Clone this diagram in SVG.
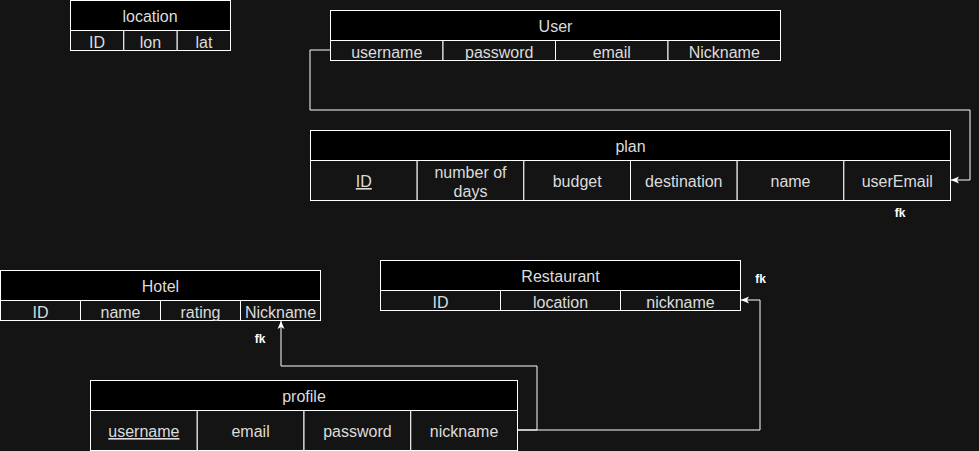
<svg xmlns="http://www.w3.org/2000/svg" width="979" height="451" viewBox="0 0 979 451">
<defs>
<style>
.hd{fill:#000000;stroke:#ffffff;stroke-width:1}
.rw{fill:#141414;stroke:#ffffff;stroke-width:1}
.t{font-family:"Liberation Sans",Arial,sans-serif;font-size:16px;fill:#dcdcdc;text-anchor:middle}
.fk{font-family:"Liberation Sans",Arial,sans-serif;font-size:12px;font-weight:bold;fill:#ffffff;text-anchor:middle}
.ln{fill:none;stroke:#ffffff;stroke-width:1}
</style>
<marker id="arr" markerUnits="userSpaceOnUse" markerWidth="9" markerHeight="8" refX="8" refY="3.5" orient="auto" viewBox="0 0 9 7">
<path d="M0,0 L8,3.5 L0,7 L2,3.5 z" fill="#ffffff"/>
</marker>
</defs>
<rect x="0" y="0" width="979" height="451" fill="#141414"/>

<g id="connectors">
<path class="ln" d="M330,50 H310 V110 H970 V180 H951" marker-end="url(#arr)"/>
<path class="ln" d="M517,430 H537 V366 H281 V321" marker-end="url(#arr)"/>
<path class="ln" d="M517,430 H760 V300 H741" marker-end="url(#arr)"/>
</g>

<g id="location">
<rect class="hd" x="70.5" y="0.5" width="160" height="30"/>
<rect class="rw" x="70.5" y="30.5" width="53.3" height="20"/>
<rect class="rw" x="123.8" y="30.5" width="53.4" height="20"/>
<rect class="rw" x="177.2" y="30.5" width="53.3" height="20"/>
<text class="t" x="150" y="22">location</text>
<text class="t" x="97" y="47.5">ID</text>
<text class="t" x="150.5" y="47.5">lon</text>
<text class="t" x="204" y="47.5">lat</text>
</g>

<g id="user">
<rect class="hd" x="330.5" y="10.5" width="450" height="30"/>
<rect class="rw" x="330.5" y="40.5" width="112.5" height="20"/>
<rect class="rw" x="443" y="40.5" width="112.5" height="20"/>
<rect class="rw" x="555.5" y="40.5" width="112.5" height="20"/>
<rect class="rw" x="668" y="40.5" width="112.5" height="20"/>
<text class="t" x="555.5" y="32">User</text>
<text class="t" x="386.75" y="57.5">username</text>
<text class="t" x="499.25" y="57.5">password</text>
<text class="t" x="611.75" y="57.5">email</text>
<text class="t" x="724.25" y="57.5">Nickname</text>
</g>

<g id="plan">
<rect class="hd" x="310.5" y="130.5" width="640" height="30"/>
<rect class="rw" x="310.5" y="160.5" width="106.67" height="40"/>
<rect class="rw" x="417.17" y="160.5" width="106.67" height="40"/>
<rect class="rw" x="523.83" y="160.5" width="106.67" height="40"/>
<rect class="rw" x="630.5" y="160.5" width="106.67" height="40"/>
<rect class="rw" x="737.17" y="160.5" width="106.67" height="40"/>
<rect class="rw" x="843.83" y="160.5" width="106.67" height="40"/>
<text class="t" x="630.5" y="152">plan</text>
<text class="t" x="363.8" y="187" text-decoration="underline">ID</text>
<text class="t" x="470.5" y="178">number of</text>
<text class="t" x="470.5" y="197">days</text>
<text class="t" x="577.2" y="187">budget</text>
<text class="t" x="683.8" y="187">destination</text>
<text class="t" x="790.5" y="187">name</text>
<text class="t" x="897.2" y="187">userEmail</text>
<text class="fk" x="900" y="217">fk</text>
</g>

<g id="hotel">
<rect class="hd" x="0.5" y="270.5" width="320" height="30"/>
<rect class="rw" x="0.5" y="300.5" width="80" height="20"/>
<rect class="rw" x="80.5" y="300.5" width="80" height="20"/>
<rect class="rw" x="160.5" y="300.5" width="80" height="20"/>
<rect class="rw" x="240.5" y="300.5" width="80" height="20"/>
<text class="t" x="160.5" y="292">Hotel</text>
<text class="t" x="40.5" y="317.5">ID</text>
<text class="t" x="120.5" y="317.5">name</text>
<text class="t" x="200.5" y="317.5">rating</text>
<text class="t" x="280.5" y="317.5">Nickname</text>
<text class="fk" x="260" y="343">fk</text>
</g>

<g id="restaurant">
<rect class="hd" x="380.5" y="260.5" width="360" height="30"/>
<rect class="rw" x="380.5" y="290.5" width="120" height="20"/>
<rect class="rw" x="500.5" y="290.5" width="120" height="20"/>
<rect class="rw" x="620.5" y="290.5" width="120" height="20"/>
<text class="t" x="560.5" y="282">Restaurant</text>
<text class="t" x="440.5" y="307.5">ID</text>
<text class="t" x="560.5" y="307.5">location</text>
<text class="t" x="680.5" y="307.5">nickname</text>
<text class="fk" x="760.5" y="283">fk</text>
</g>

<g id="profile">
<rect class="hd" x="90.5" y="380.5" width="427" height="30"/>
<rect class="rw" x="90.5" y="410.5" width="106.75" height="40"/>
<rect class="rw" x="197.25" y="410.5" width="106.75" height="40"/>
<rect class="rw" x="304" y="410.5" width="106.75" height="40"/>
<rect class="rw" x="410.75" y="410.5" width="106.75" height="40"/>
<text class="t" x="304" y="402">profile</text>
<text class="t" x="143.9" y="437" text-decoration="underline">username</text>
<text class="t" x="250.6" y="437">email</text>
<text class="t" x="357.4" y="437">password</text>
<text class="t" x="464.1" y="437">nickname</text>
</g>
</svg>
